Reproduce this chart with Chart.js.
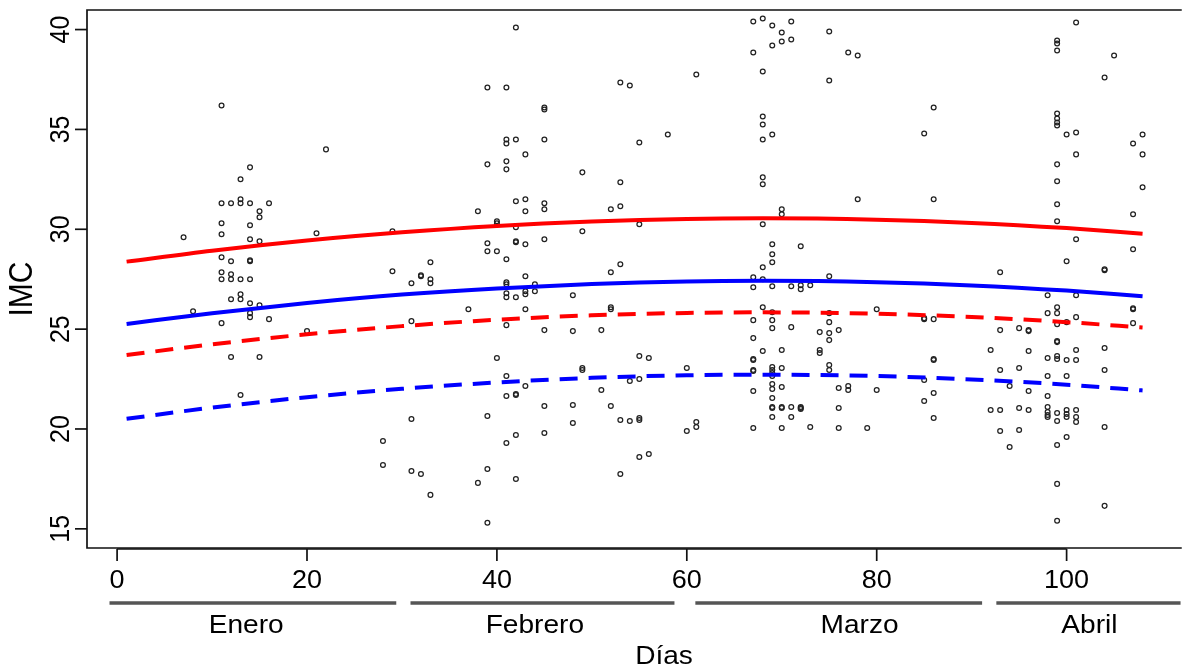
<!DOCTYPE html>
<html>
<head>
<meta charset="utf-8">
<script src="https://cdn.jsdelivr.net/npm/chart.js@4/dist/chart.umd.min.js"></script>
<style>
  html, body { margin: 0; padding: 0; background: #ffffff; }
  #wrap { width: 1182px; height: 670px; }
</style>
</head>
<body>
<div id="wrap"><canvas id="c" width="1182" height="670"></canvas></div>
<script>
// Observed IMC per day, grouped by month: each day lists its measurements
const eneroDias = [7, 8, 11, 12, 13, 14, 15, 16, 20, 21, 22, 28, 29];
const eneroIMC = [
  [29.6], [25.9],
  [36.2, 31.3, 30.3, 29.75, 28.6, 27.85, 27.5, 25.3],
  [31.3, 28.4, 27.75, 27.5, 26.5, 23.6],
  [32.5, 31.5, 31.3, 27.5, 26.75, 26.5, 21.7],
  [33.1, 31.3, 30.2, 29.5, 28.45, 28.4, 27.5, 26.3, 25.8, 25.6],
  [30.9, 30.6, 29.4, 26.2, 23.6],
  [31.3, 25.5],
  [24.9], [29.8], [34.0],
  [19.4, 18.2],
  [29.9, 27.9]
];
const febreroDias = [31, 32, 33, 37, 38, 39, 40, 41, 42, 43, 44, 45, 48, 49, 51, 52, 53, 54, 55, 56, 58, 60, 61];
const febreroIMC = [
  [27.3, 25.4, 20.5, 17.9],
  [27.7, 27.65, 17.75],
  [28.35, 27.5, 27.3, 16.7],
  [26.0],
  [30.9, 17.3],
  [37.1, 33.25, 29.3, 28.9, 20.65, 18.0, 15.3],
  [30.4, 30.3, 28.9, 23.55],
  [37.1, 34.5, 34.3, 33.4, 33.0, 28.5, 27.35, 27.25, 26.8, 26.6, 25.2, 22.65, 21.65, 19.3],
  [40.1, 34.5, 31.4, 30.1, 29.4, 29.35, 26.6, 21.75, 21.7, 19.7, 17.5],
  [33.75, 31.5, 30.9, 29.25, 27.65, 26.9, 26.75, 26.0, 22.15],
  [27.25, 26.9],
  [36.1, 36.0, 34.5, 31.3, 31.0, 29.5, 24.95, 21.15, 19.8],
  [26.7, 24.9, 21.2, 20.3],
  [32.85, 29.9, 23.05, 22.95],
  [24.95, 21.95],
  [31.0, 27.85, 26.1, 26.0, 21.15],
  [37.35, 32.35, 31.15, 28.25, 20.45, 17.75],
  [37.2, 22.4, 20.4],
  [34.35, 30.25, 23.65, 22.5, 20.55, 20.45, 18.6],
  [23.55, 18.75],
  [34.75],
  [23.05, 19.9],
  [37.75, 20.35, 20.1]
];
const marzoDias = [67, 68, 69, 70, 71, 72, 73, 74, 75, 76, 77, 78, 79, 80, 85, 86];
const marzoIMC = [
  [40.4, 38.85, 27.6, 27.1, 25.45, 24.55, 23.5, 23.45, 22.95, 22.9, 21.9, 20.05],
  [40.55, 37.9, 35.65, 35.25, 34.5, 32.6, 32.25, 30.25, 28.1, 27.5, 26.1, 23.9],
  [40.2, 39.2, 34.75, 29.25, 28.75, 28.35, 27.15, 25.85, 25.45, 25.05, 23.1, 22.95, 22.8, 22.65, 22.25, 22.0, 21.55, 21.1, 21.05, 20.6],
  [39.85, 39.4, 31.0, 30.75, 23.95, 23.05, 22.1, 21.1, 21.05, 20.05],
  [40.4, 39.5, 27.15, 25.1, 21.1, 20.6],
  [29.15, 27.2, 27.0, 21.1, 21.05, 21.0],
  [27.2, 20.1],
  [24.85, 23.95, 23.8],
  [39.9, 37.45, 27.65, 25.8, 25.35, 24.8, 24.45, 23.2, 22.95],
  [24.95, 22.05, 21.05, 20.05],
  [38.85, 22.15, 21.95],
  [38.7, 31.5],
  [20.05],
  [26.0, 21.95],
  [34.8, 25.55, 25.5, 22.45, 21.4],
  [36.1, 31.5, 25.5, 23.5, 23.45, 21.8, 20.55]
];
const abrilDias = [92, 93, 94, 95, 96, 98, 99, 100, 101, 104, 105, 107, 108];
const abrilIMC = [
  [23.95, 20.95],
  [27.85, 24.95, 22.95, 20.95, 19.9],
  [22.15, 19.1],
  [25.05, 23.05, 21.05, 19.95],
  [24.95, 24.9, 23.9, 21.9, 20.95],
  [26.7, 25.8, 23.55, 22.65, 21.65, 21.1, 20.85, 20.7, 20.6],
  [39.45, 39.3, 38.95, 35.8, 35.55, 35.35, 35.2, 33.25, 32.4, 31.25, 30.4, 26.1, 25.8, 25.25, 24.4, 24.35, 23.65, 23.5, 20.8, 20.4, 19.2, 17.25, 15.4],
  [34.75, 28.4, 25.35, 23.45, 22.65, 20.95, 20.75, 20.6, 19.6],
  [40.35, 34.85, 33.75, 29.5, 26.7, 25.6, 23.95, 23.45, 20.95, 20.6, 20.35],
  [37.6, 28.0, 27.95, 24.05, 22.95, 20.1, 16.15],
  [38.7],
  [34.3, 30.75, 29.0, 26.05, 26.0, 25.3],
  [34.75, 33.75, 32.1]
];

// Fitted curves over the days of the study
const curvaDias = [1, 10, 20, 30, 40, 50, 60, 68, 80, 90, 100, 108];
const rojaSolida = [28.38, 28.93, 29.44, 29.85, 30.17, 30.39, 30.52, 30.55, 30.48, 30.32, 30.06, 29.78];
const azulSolida = [25.26, 25.80, 26.31, 26.73, 27.04, 27.26, 27.39, 27.42, 27.35, 27.19, 26.93, 26.65];
const rojaDiscontinua = [23.70, 24.24, 24.74, 25.15, 25.47, 25.69, 25.81, 25.84, 25.77, 25.61, 25.35, 25.08];
const azulDiscontinua = [20.51, 21.07, 21.59, 22.01, 22.33, 22.56, 22.69, 22.72, 22.65, 22.48, 22.22, 21.93];

// Axis ticks and month labels
const xTicks = [0, 20, 40, 60, 80, 100];
const yTicks = [15, 20, 25, 30, 35, 40];
const meses = ['Enero', 'Febrero', 'Marzo', 'Abril'];
const mesInicio = [-0.8, 30.9, 60.9, 92.6];
const mesFin = [29.4, 58.7, 91.1, 112];
const mesEtiquetaDia = [13.6, 44.0, 78.2, 102.4];

function puntos(dias, valores) {
  const out = [];
  dias.forEach((d, i) => valores[i].forEach(v => out.push({ x: d, y: v })));
  return out;
}
function curva(vals) {
  return curvaDias.map((d, i) => ({ x: d, y: vals[i] }));
}

const observaciones = [].concat(
  puntos(eneroDias, eneroIMC),
  puntos(febreroDias, febreroIMC),
  puntos(marzoDias, marzoIMC),
  puntos(abrilDias, abrilIMC)
);

const FONT = '"Liberation Sans", Arial, Helvetica, sans-serif';
const SX = 1.08; // horizontal text stretch

function texto(ctx, t, x, y, size, rot) {
  ctx.save();
  ctx.translate(x, y);
  ctx.scale(SX, 1);
  if (rot) ctx.rotate(rot);
  ctx.font = size + 'px ' + FONT;
  ctx.fillStyle = '#000';
  ctx.textAlign = 'center';
  ctx.textBaseline = 'middle';
  ctx.fillText(t, 0, 0);
  ctx.restore();
}

const ejesR = {
  id: 'ejesR',
  afterDraw(chart) {
    const ctx = chart.ctx;
    const a = chart.chartArea;
    const xs = chart.scales.x, ys = chart.scales.y;
    ctx.save();
    // plot frame
    ctx.strokeStyle = '#111';
    ctx.lineWidth = 1.7;
    ctx.beginPath();
    ctx.moveTo(a.right + 5, a.top);
    ctx.lineTo(a.left, a.top);
    ctx.lineTo(a.left, a.bottom);
    ctx.lineTo(a.right + 5, a.bottom);
    ctx.stroke();

    // y axis ticks and rotated labels
    yTicks.forEach(v => {
      const py = ys.getPixelForValue(v);
      ctx.beginPath();
      ctx.moveTo(a.left - 12, py);
      ctx.lineTo(a.left, py);
      ctx.stroke();
      texto(ctx, String(v), a.left - 25, py, 25, -Math.PI / 2);
    });
    texto(ctx, 'IMC', 23, 289, 30, -Math.PI / 2);

    // x axis
    const ax = a.bottom + 1;
    ctx.beginPath();
    ctx.moveTo(xs.getPixelForValue(xTicks[0]), ax);
    ctx.lineTo(xs.getPixelForValue(xTicks[xTicks.length - 1]), ax);
    ctx.stroke();
    xTicks.forEach(v => {
      const px = xs.getPixelForValue(v);
      ctx.beginPath();
      ctx.moveTo(px, ax);
      ctx.lineTo(px, ax + 12);
      ctx.stroke();
      texto(ctx, String(v), px, a.bottom + 33, 25, 0);
    });

    // month bars and names
    ctx.strokeStyle = '#555';
    ctx.lineWidth = 3.5;
    meses.forEach((m, i) => {
      ctx.beginPath();
      ctx.moveTo(xs.getPixelForValue(mesInicio[i]), a.bottom + 55);
      ctx.lineTo(xs.getPixelForValue(mesFin[i]), a.bottom + 55);
      ctx.stroke();
      texto(ctx, m, xs.getPixelForValue(mesEtiquetaDia[i]), a.bottom + 78, 26, 0);
    });
    texto(ctx, 'Días', 664, a.bottom + 109, 26, 0);
    ctx.restore();
  }
};

const lineaBase = {
  showLine: true,
  pointRadius: 0,
  pointHoverRadius: 0,
  borderWidth: 4,
  fill: false,
  cubicInterpolationMode: 'monotone'
};

new Chart(document.getElementById('c'), {
  type: 'scatter',
  data: {
    datasets: [
      Object.assign({ label: 'rojaSolida', data: curva(rojaSolida), borderColor: '#ff0000' }, lineaBase),
      Object.assign({ label: 'azulSolida', data: curva(azulSolida), borderColor: '#0000ff' }, lineaBase),
      Object.assign({ label: 'rojaDiscontinua', data: curva(rojaDiscontinua), borderColor: '#ff0000', borderDash: [18, 11] }, lineaBase),
      Object.assign({ label: 'azulDiscontinua', data: curva(azulDiscontinua), borderColor: '#0000ff', borderDash: [18, 11] }, lineaBase),
      {
        label: 'observaciones',
        data: observaciones,
        pointStyle: 'circle',
        pointRadius: 2.4,
        pointBorderWidth: 1.25,
        pointBorderColor: '#222',
        pointBackgroundColor: 'rgba(0,0,0,0)',
        showLine: false
      }
    ]
  },
  options: {
    responsive: false,
    animation: false,
    devicePixelRatio: 1,
    layout: { padding: { left: 87, top: 10, right: 0, bottom: 122 } },
    plugins: { legend: { display: false }, tooltip: { enabled: false } },
    scales: {
      x: { type: 'linear', min: -3.17, max: 111.6, display: false },
      y: { type: 'linear', min: 14.04, max: 40.98, display: false }
    }
  },
  plugins: [ejesR]
});
</script>
</body>
</html>
